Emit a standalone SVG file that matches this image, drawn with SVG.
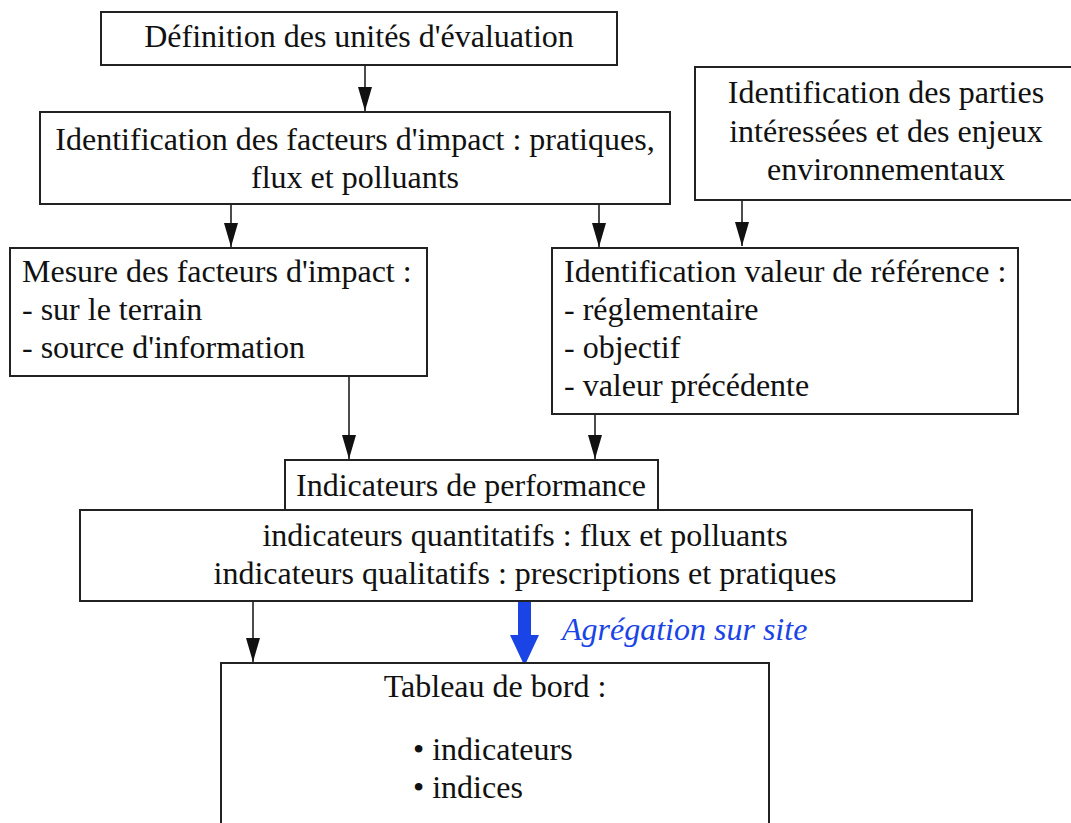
<svg xmlns="http://www.w3.org/2000/svg" width="1071" height="823" viewBox="0 0 1071 823">
<defs>
<style>
.box{fill:#fff;stroke:#222;stroke-width:2}
.t{font-family:"Liberation Serif","Times New Roman",serif;font-size:32px;fill:#111}
.c{text-anchor:middle}
.ln{stroke:#111;stroke-width:1.5;fill:none}
.lab{font-family:"Liberation Serif","Times New Roman",serif;font-size:32px;font-style:italic;fill:#1a44e6}
</style>
<marker id="ah" markerWidth="24" markerHeight="14" refX="24" refY="7" orient="auto" markerUnits="userSpaceOnUse" viewBox="0 0 24 14">
<path d="M0,0 L24,7 L0,14 Z" fill="#111"/>
</marker>
</defs>
<rect width="1071" height="823" fill="#fff"/>
<g id="connectors">
<line class="ln" x1="365" y1="65" x2="365" y2="111" marker-end="url(#ah)"/>
<line class="ln" x1="231" y1="204" x2="231" y2="247" marker-end="url(#ah)"/>
<line class="ln" x1="599" y1="204" x2="599" y2="247" marker-end="url(#ah)"/>
<line class="ln" x1="742" y1="200" x2="742" y2="246" marker-end="url(#ah)"/>
<line class="ln" x1="349" y1="376" x2="349" y2="459" marker-end="url(#ah)"/>
<line class="ln" x1="595" y1="414" x2="595" y2="459" marker-end="url(#ah)"/>
<line class="ln" x1="253" y1="601" x2="253" y2="662" marker-end="url(#ah)"/>
<path d="M518,601 H531 V635 H539 L524.5,666 L510,635 H518 Z" fill="#1a44e6"/>
<text class="lab" x="562" y="640">Agrégation sur site</text>
</g>
<g id="n1">
<rect class="box" x="101" y="12" width="516" height="53"/>
<text class="t c" x="359" y="47">Définition des unités d'évaluation</text>
</g>
<g id="n2">
<rect class="box" x="40" y="112" width="630" height="92"/>
<text class="t c" x="355" y="150">Identification des facteurs d'impact : pratiques,</text>
<text class="t c" x="355" y="188">flux et polluants</text>
</g>
<g id="n3">
<rect class="box" x="695" y="67" width="380" height="133"/>
<text class="t c" x="886" y="103">Identification des parties</text>
<text class="t c" x="886" y="142">intéressées et des enjeux</text>
<text class="t c" x="886" y="180">environnementaux</text>
</g>
<g id="n4">
<rect class="box" x="10" y="248" width="417" height="128"/>
<text class="t" x="22" y="282">Mesure des facteurs d'impact :</text>
<text class="t" x="22" y="320">- sur le terrain</text>
<text class="t" x="22" y="358">- source d'information</text>
</g>
<g id="n5">
<rect class="box" x="552" y="248" width="466" height="166"/>
<text class="t" x="564" y="282">Identification valeur de référence :</text>
<text class="t" x="564" y="320">- réglementaire</text>
<text class="t" x="564" y="358">- objectif</text>
<text class="t" x="564" y="396">- valeur précédente</text>
</g>
<g id="n6">
<rect class="box" x="285" y="460" width="373" height="50"/>
<text class="t c" x="471" y="496">Indicateurs de performance</text>
</g>
<g id="n7">
<rect class="box" x="80" y="510" width="892" height="91"/>
<text class="t c" x="525" y="546">indicateurs quantitatifs : flux et polluants</text>
<text class="t c" x="525" y="584">indicateurs qualitatifs : prescriptions et pratiques</text>
</g>
<g id="n8">
<rect class="box" x="221" y="663" width="548" height="200"/>
<text class="t c" x="495" y="697">Tableau de bord :</text>
<text class="t" x="413" y="760">• indicateurs</text>
<text class="t" x="413" y="798">• indices</text>
</g>
</svg>
